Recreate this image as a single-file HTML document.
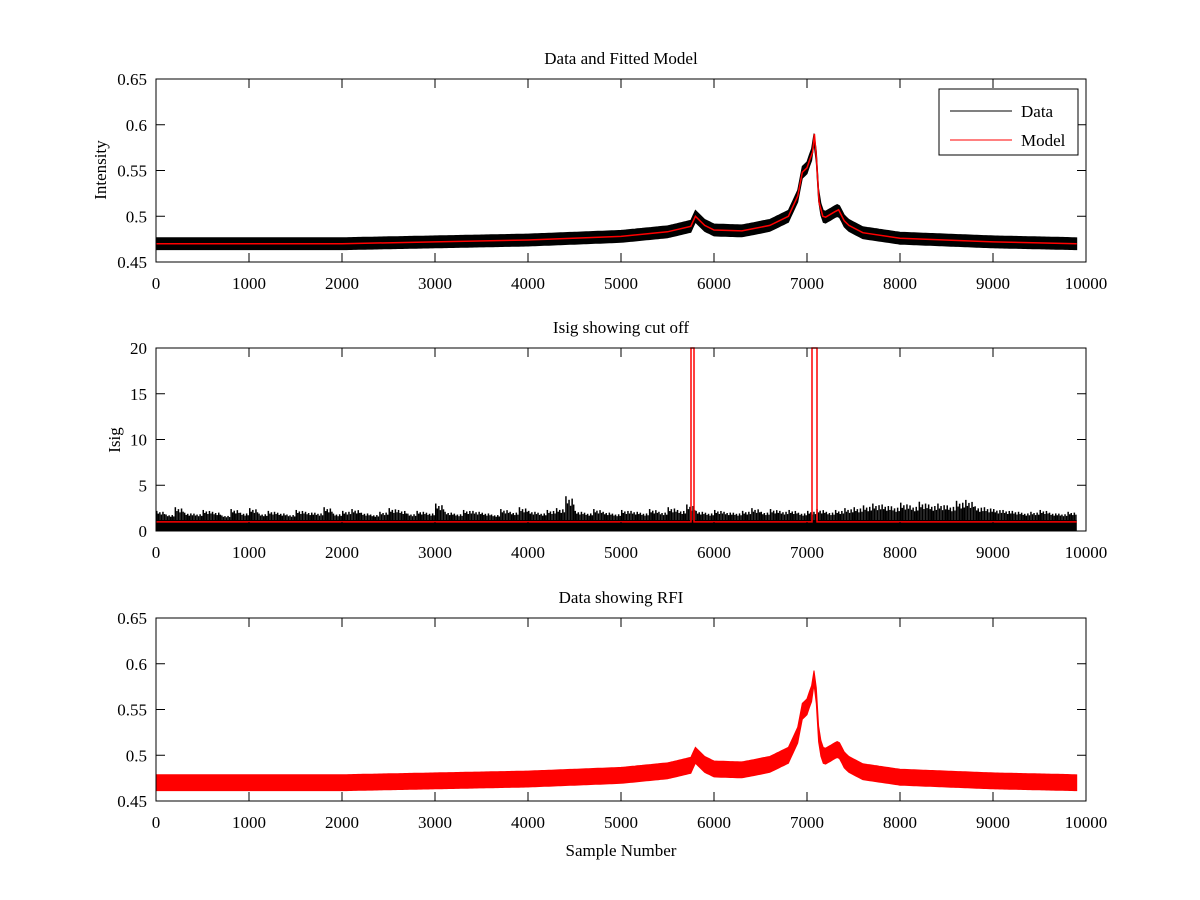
<!DOCTYPE html>
<html><head><meta charset="utf-8"><style>
html,body{margin:0;padding:0;background:#fff;}
svg{display:block;font-family:"Liberation Serif",serif;}
</style></head><body>
<svg id="fig" width="1200" height="900" viewBox="0 0 1200 900" xmlns="http://www.w3.org/2000/svg">
<rect width="1200" height="900" fill="#fff"/>
</svg>
<script>
// ---- data arrays ----
const modelX = [0,1000,2000,3000,4000,5000,5500,5750,5800,5900,6000,6300,6600,6800,6900,6950,7000,7030,7060,7080,7100,7130,7170,7200,7300,7340,7400,7450,7600,8000,9000,9900];
const modelY = [0.470,0.470,0.470,0.472,0.474,0.478,0.483,0.489,0.500,0.490,0.485,0.484,0.490,0.500,0.522,0.548,0.553,0.562,0.570,0.590,0.565,0.515,0.500,0.499,0.505,0.507,0.495,0.490,0.482,0.476,0.472,0.470];
const noiseAmp = [0.0065,0.0065,0.0065,0.0065,0.0065,0.0065,0.0065,0.0065,0.0065,0.0065,0.0065,0.0065,0.0065,0.0065,0.0065,0.0065,0.0065,0.0065,0.0065,0.005,0.0065,0.0065,0.0065,0.0065,0.0065,0.0065,0.0065,0.0065,0.0065,0.0065,0.0065,0.0065];
const isigPeaks = [2.2,1.8,2.6,2.0,1.9,2.3,2.1,1.7,2.4,2.0,2.5,1.9,2.2,2.0,1.8,2.3,2.1,2.0,2.6,1.9,2.2,2.4,2.0,1.8,2.1,2.5,2.3,1.9,2.2,2.0,3.0,2.1,1.9,2.3,2.2,2.0,1.8,2.4,2.1,2.6,2.2,2.0,2.3,2.5,3.8,2.2,2.0,2.4,2.1,1.9,2.3,2.2,2.0,2.4,2.1,2.6,2.3,2.9,2.2,2.0,2.3,2.1,2.0,2.2,2.5,2.1,2.4,2.2,2.3,2.0,2.2,2.4,2.1,2.3,2.5,2.6,2.8,3.0,2.9,2.7,3.1,2.8,3.2,2.9,3.0,2.8,3.3,3.4,2.7,2.6,2.4,2.3,2.2,2.0,2.1,2.3,2.0,1.9,2.1];
const spikeShape = [1.0,0.7,0.85,0.6,0.9,0.65];
const cutX = [5753,5785,7054,7108];
const xTicks = [0,1000,2000,3000,4000,5000,6000,7000,8000,9000,10000];
const yTicksI = [0.45,0.5,0.55,0.6,0.65];
const yTicksS = [0,5,10,15,20];

const svg = document.getElementById('fig');
const NS = 'http://www.w3.org/2000/svg';
function mk(tag, attrs, parent){const e=document.createElementNS(NS,tag);for(const k in attrs)e.setAttribute(k,attrs[k]);(parent||svg).appendChild(e);return e;}
const L=156,R=1086;
const sx = v => L + v/10000*(R-L);
function interp(x){for(let i=1;i<modelX.length;i++){if(x<=modelX[i]){const t=(x-modelX[i-1])/(modelX[i]-modelX[i-1]);return [modelY[i-1]+t*(modelY[i]-modelY[i-1]), noiseAmp[i-1]+t*(noiseAmp[i]-noiseAmp[i-1])];}}return [modelY[modelY.length-1],noiseAmp[noiseAmp.length-1]];}

function axes(top,bot,ymin,ymax,yt,ylabels,title,name){
  const sy = v => bot - (v-ymin)/(ymax-ymin)*(bot-top);
  const g = mk('g',{});
  
  
  return {sy,g,top,bot,yt,ylabels,title,name};
}
function frame(a){
  const g=a.g;
  mk('rect',{x:L,y:a.top,width:R-L,height:a.bot-a.top,fill:'none',stroke:'#000','stroke-width':1},g);
  xTicks.forEach(t=>{const x=sx(t);
    mk('line',{x1:x,x2:x,y1:a.bot,y2:a.bot-9,stroke:'#000'},g);
    mk('line',{x1:x,x2:x,y1:a.top,y2:a.top+9,stroke:'#000'},g);
    const tx=mk('text',{x:x,y:a.bot+27,'text-anchor':'middle','font-size':17},g);tx.textContent=t;
    
    
  });
  a.yt.forEach((t,i)=>{const y=a.sy(t);
    mk('line',{x1:L,x2:L+9,y1:y,y2:y,stroke:'#000'},g);
    mk('line',{x1:R,x2:R-9,y1:y,y2:y,stroke:'#000'},g);
    const tx=mk('text',{x:L-9,y:y+6,'text-anchor':'end','font-size':17},g);tx.textContent=a.ylabels[i];
    
    
  });
  const tt=mk('text',{x:(L+R)/2,y:a.top-15,'text-anchor':'middle','font-size':17},g);tt.textContent=a.title;
  
  
}
function band(a,color,extra){
  let up=[],lo=[];
  for(let x=0;x<=9900;x+=25){const [m,n]=interp(x);up.push([sx(x),a.sy(m+n)-extra]);lo.push([sx(x),a.sy(m-n)+extra]);}
  const pts=up.concat(lo.reverse()).map(p=>p[0].toFixed(1)+','+p[1].toFixed(1)).join(' ');
  const p=mk('polygon',{points:pts,fill:color,stroke:color,'stroke-width':1},a.g);
  return p;
}

// Plot 1
const a1=axes(79,262,0.45,0.65,yTicksI,['0.45','0.5','0.55','0.6','0.65'],'Data and Fitted Model','data-model');
const b1=band(a1,'#000',0);


const m1=mk('polyline',{points:modelX.map((x,i)=>sx(x).toFixed(1)+','+a1.sy(modelY[i]).toFixed(1)).join(' '),fill:'none',stroke:'#f00','stroke-width':1.5},a1.g);


frame(a1);
const yl1=mk('text',{x:0,y:0,transform:'translate(106,170) rotate(-90)','text-anchor':'middle','font-size':17},a1.g);yl1.textContent='Intensity';


// legend
const lg=mk('g',{});


mk('rect',{x:939,y:89,width:139,height:66,fill:'#fff',stroke:'#000'},lg);
mk('line',{x1:950,x2:1012,y1:111,y2:111,stroke:'#000'},lg);
mk('line',{x1:950,x2:1012,y1:140,y2:140,stroke:'#f00'},lg);
const t1=mk('text',{x:1021,y:117,'font-size':17},lg);t1.textContent='Data';


const t2=mk('text',{x:1021,y:146,'font-size':17},lg);t2.textContent='Model';



// Plot 2
const a2=axes(348,531,0,20,yTicksS,['0','5','10','15','20'],'Isig showing cut off','isig');
const base=mk('rect',{x:L,y:a2.sy(1.2),width:sx(9900)-L,height:a2.sy(0)-a2.sy(1.2),fill:'#000'},a2.g);


isigPeaks.forEach((v,i)=>{
  spikeShape.forEach((f,j)=>{
    const x=sx(i*100+j*100/spikeShape.length+8);
    const h=1.2+(v-1.2)*f;
    const r=mk('rect',{x:x-0.75,y:a2.sy(h),width:1.5,height:a2.sy(0)-a2.sy(h),fill:'#000'},a2.g);
    
    
  });
});
const cp=[[0,1],[cutX[0],1],[cutX[0],20.5],[cutX[1],20.5],[cutX[1],1],[cutX[2],1],[cutX[2],20.5],[cutX[3],20.5],[cutX[3],1],[9900,1]];
const cl=mk('polyline',{points:cp.map(p=>sx(p[0]).toFixed(1)+','+Math.max(a2.top,a2.sy(p[1])).toFixed(1)).join(' '),fill:'none',stroke:'#f00','stroke-width':1.5},a2.g);


frame(a2);
const yl2=mk('text',{x:0,y:0,transform:'translate(120,440) rotate(-90)','text-anchor':'middle','font-size':17},a2.g);yl2.textContent='Isig';



// Plot 3
const a3=axes(618,801,0.45,0.65,yTicksI,['0.45','0.5','0.55','0.6','0.65'],'Data showing RFI','rfi');
const b3=band(a3,'#f00',2);


frame(a3);
const xl=mk('text',{x:(L+R)/2,y:856,'text-anchor':'middle','font-size':17});xl.textContent='Sample Number';


</script>
</body></html>
